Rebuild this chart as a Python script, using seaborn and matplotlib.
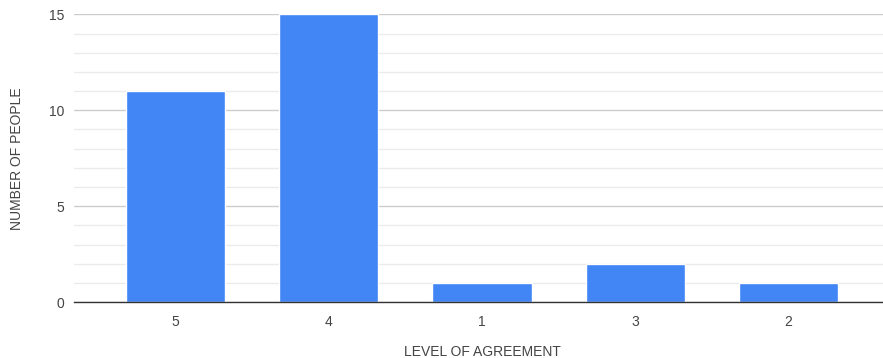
import matplotlib
matplotlib.use("Agg")
import matplotlib.pyplot as plt
import seaborn as sns
import pandas as pd
from matplotlib.ticker import MultipleLocator

categories = ["5", "4", "1", "3", "2"]
counts = [11, 15, 1, 2, 1]
y_ticks = [0, 5, 10, 15]

sns.set_theme(style="white")
plt.rcParams['font.family'] = ['Liberation Sans', 'DejaVu Sans']

df = pd.DataFrame({"level": categories, "count": counts})

fig = plt.figure(figsize=(8.83, 3.58), dpi=100)
ax = fig.add_axes([74/883, (358-302)/358, (890-74)/883, (302-14.5)/358])

sns.barplot(data=df, x="level", y="count", order=categories, color="#4285F4",
            saturation=1, width=0.646, ax=ax, zorder=3)

ax.set_xlim(-0.662, 4.662)
ax.set_ylim(0, 15)
ax.set_yticks(y_ticks)
ax.yaxis.set_minor_locator(MultipleLocator(1))
ax.grid(axis="y", which="major", color="#cccccc", linewidth=1, zorder=0)
ax.grid(axis="y", which="minor", color="#ebebeb", linewidth=1, zorder=0)
ax.set_axisbelow(True)

for s in ["top", "right", "left"]:
    ax.spines[s].set_visible(False)
ax.spines["bottom"].set_color("#333333")
ax.spines["bottom"].set_linewidth(1)
ax.spines["bottom"].set_zorder(4)

ax.tick_params(axis="both", which="both", length=0, colors="#444444", labelsize=10)
ax.tick_params(axis="y", pad=7)
ax.tick_params(axis="x", pad=9)

ax.set_xlabel("LEVEL OF AGREEMENT", color="#444444", fontsize=10, labelpad=12)
ax.set_ylabel("NUMBER OF PEOPLE", color="#444444", fontsize=10, labelpad=18)

fig.savefig("out.png", dpi=100)
